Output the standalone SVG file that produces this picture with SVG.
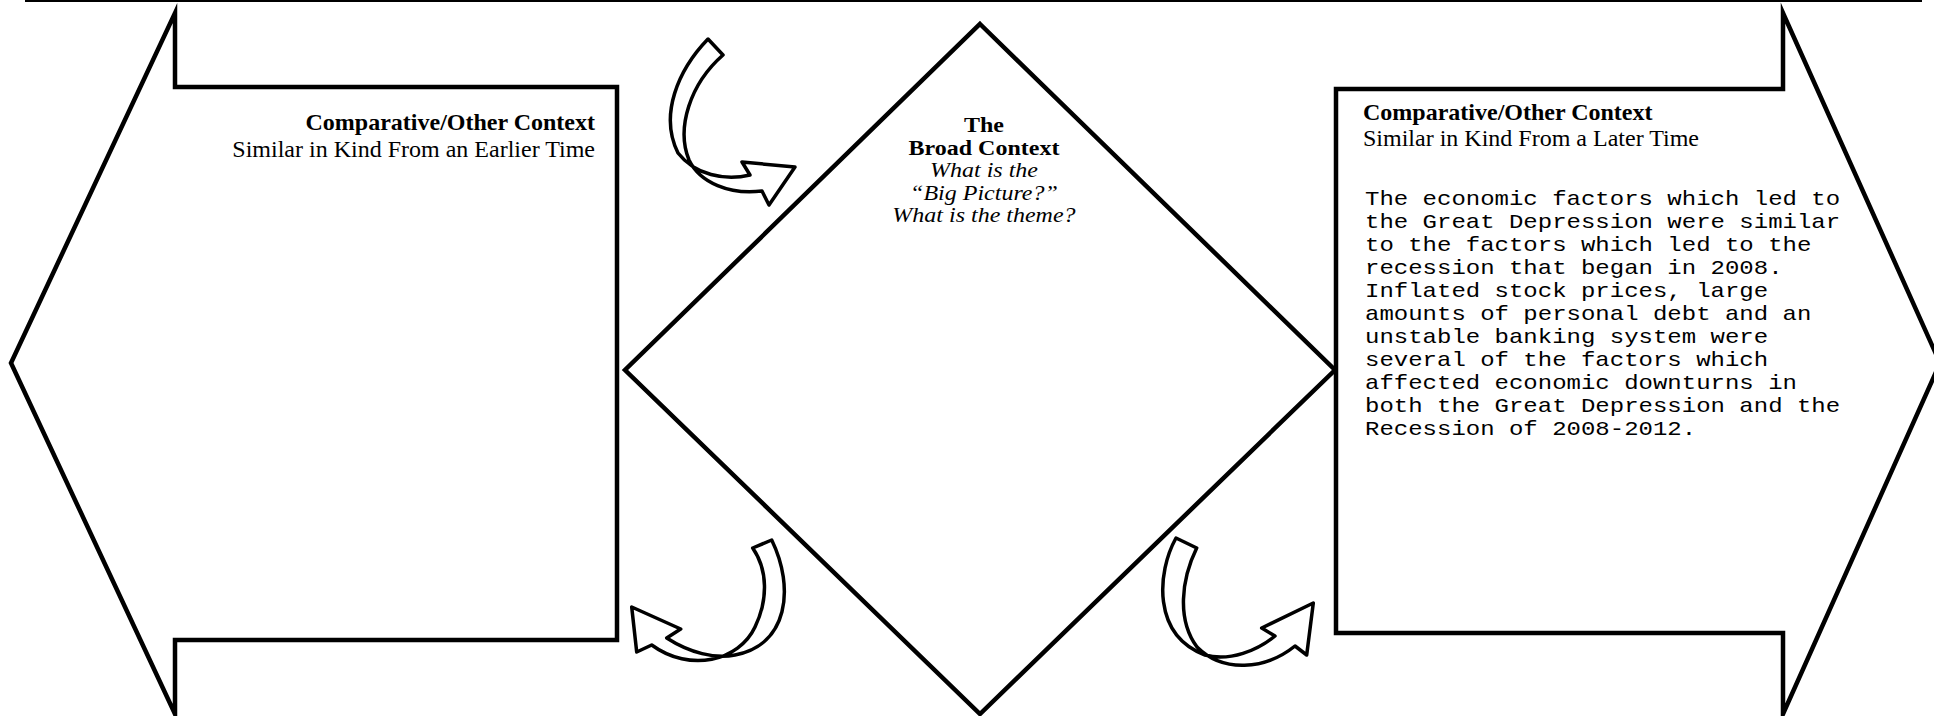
<svg xmlns="http://www.w3.org/2000/svg" width="1934" height="716" viewBox="0 0 1934 716">
<style>
.shape{fill:#fff;stroke:#000;stroke-width:4.5;stroke-linejoin:miter;stroke-miterlimit:10}
.arrow{fill:#fff;stroke:#000;stroke-width:3.5;stroke-linejoin:round}
.serif{font-family:"Liberation Serif","Times New Roman",serif;font-size:24px;fill:#000}
.b{font-weight:bold}
.i{font-style:italic}
.mono{font-family:"Liberation Mono","Courier New",monospace;font-size:24px;fill:#000}
</style>
<rect width="1934" height="716" fill="#fff"/>
<line x1="25" y1="1" x2="1922" y2="1" stroke="#000" stroke-width="2"/>

<g id="left-context">
<polygon class="shape" points="175,13 175,87 617,87 617,640 175,640 175,714 11,363"/>
<text class="serif b" x="595" y="130" text-anchor="end">Comparative/Other Context</text>
<text class="serif" x="595" y="157" text-anchor="end">Similar in Kind From an Earlier Time</text>
</g>

<g id="broad-context">
<polygon class="shape" points="980,24 1335,370 980,714 625,370" stroke-width="4"/>
<g transform="translate(0,132) scale(1,0.85)">
<text class="serif b" x="984" y="0" text-anchor="middle">The</text>
<text class="serif b" x="984" y="26.5" text-anchor="middle">Broad Context</text>
<text class="serif i" x="984" y="53" text-anchor="middle">What is the</text>
<text class="serif i" x="984" y="79.5" text-anchor="middle">“Big Picture?”</text>
<text class="serif i" x="984" y="106" text-anchor="middle">What is the theme?</text>
</g>
</g>

<g id="right-context">
<polygon class="shape" points="1783,13 1783,89 1336,89 1336,633 1783,633 1783,714 1940,363"/>
<text class="serif b" x="1363" y="120">Comparative/Other Context</text>
<text class="serif" x="1363" y="146">Similar in Kind From a Later Time</text>
<text class="mono" transform="translate(0,205) scale(1,0.85)" x="1365" y="0">
<tspan x="1365" dy="0">The economic factors which led to</tspan>
<tspan x="1365" dy="27.06">the Great Depression were similar</tspan>
<tspan x="1365" dy="27.06">to the factors which led to the</tspan>
<tspan x="1365" dy="27.06">recession that began in 2008.</tspan>
<tspan x="1365" dy="27.06">Inflated stock prices, large</tspan>
<tspan x="1365" dy="27.06">amounts of personal debt and an</tspan>
<tspan x="1365" dy="27.06">unstable banking system were</tspan>
<tspan x="1365" dy="27.06">several of the factors which</tspan>
<tspan x="1365" dy="27.06">affected economic downturns in</tspan>
<tspan x="1365" dy="27.06">both the Great Depression and the</tspan>
<tspan x="1365" dy="27.06">Recession of 2008-2012.</tspan>
</text>
</g>

<g id="connectors">
<path class="arrow" d="M708,39 C678,70 659,115 678,153 C695,175 725,181 750,175 L742,162 L795,167 L769,205 L762,191 C730,195 700,183 689,160 C676,128 690,84 723,55 Z"/>
<path class="arrow" d="M771.7,540 C795,588 788,645 735,655 C715,659 690,653 666.7,638 L680.7,629 L631.7,607 L636.7,652 L651.7,645 C690,673 739,661 755,627 C768,600 768,570 752.7,548 Z"/>
<path class="arrow" d="M1196.7,548 L1176,538 C1157,572 1152,635 1205,655 C1230,662 1258,650 1275,636 L1261.7,628 L1313.3,603 L1306.7,655 L1295,646 C1265,670 1223,673 1197,647 C1177,620 1181,580 1196.7,548 Z"/>
</g>
</svg>
